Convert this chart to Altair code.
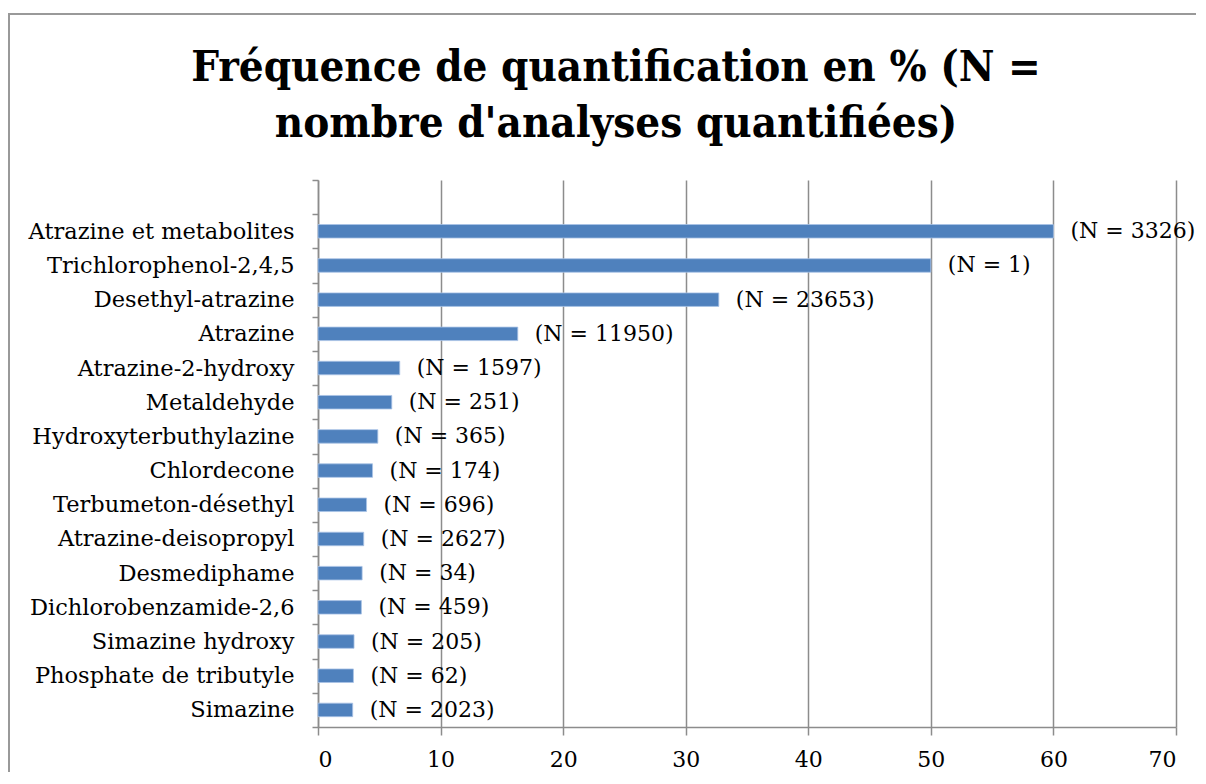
import altair as alt
import pandas as pd

categories = ["Atrazine et metabolites", "Trichlorophenol-2,4,5", "Desethyl-atrazine",
              "Atrazine", "Atrazine-2-hydroxy", "Metaldehyde", "Hydroxyterbuthylazine",
              "Chlordecone", "Terbumeton-désethyl", "Atrazine-deisopropyl", "Desmediphame",
              "Dichlorobenzamide-2,6", "Simazine hydroxy", "Phosphate de tributyle", "Simazine"]
values = [60.0, 50.0, 32.7, 16.3, 6.67, 6.02, 4.88, 4.45, 3.96, 3.73, 3.6, 3.54, 2.94, 2.89, 2.83]
counts = [3326, 1, 23653, 11950, 1597, 251, 365, 174, 696, 2627, 34, 459, 205, 62, 2023]
x_ticks = [0, 10, 20, 30, 40, 50, 60, 70]
title_text = "Fréquence de quantification en % (N =\nnombre d'analyses quantifiées)"

df = pd.DataFrame({
    "substance": categories,
    "freq": values,
    "label": [f"(N = {n})" for n in counts],
})

FONT = "DejaVu Serif"
TFONT = "DejaVu Serif Condensed"
W, H = 858, 547
domain = [" "] + categories

y_enc = alt.Y("substance:N", sort=domain,
              scale=alt.Scale(domain=domain, paddingInner=0, paddingOuter=0),
              axis=alt.Axis(title=None, labelFont=FONT, labelFontSize=22.5, labelColor="black",
                            labelPadding=18, domainColor="#8c8c8c", domainWidth=1.5,
                            tickColor="#8c8c8c", tickWidth=1.5, tickSize=6, tickBand="extent",
                            grid=False, labelLimit=400))
x_enc = alt.X("freq:Q",
              scale=alt.Scale(domain=[0, 70], nice=False),
              axis=alt.Axis(title=None, values=x_ticks, labelFont=FONT, labelFontSize=22,
                            labelColor="black", labelPadding=14, domainColor="#8c8c8c",
                            domainWidth=1.5, tickColor="#8c8c8c", tickWidth=1.5, tickSize=8,
                            gridColor="#8c8c8c", gridWidth=1.5, gridOpacity=1))

bars = alt.Chart(df).mark_bar(color="#4F81BD", stroke="#a9c3e6", strokeWidth=0.8,
                              height=alt.RelativeBandSize(0.395)).encode(
    x=x_enc, y=y_enc)

texts = alt.Chart(df).mark_text(align="left", baseline="middle", dx=17, font=FONT,
                                fontSize=22, color="black").encode(
    x="freq:Q", y=alt.Y("substance:N", sort=domain), text="label:N")

frame = alt.Chart(pd.DataFrame({"a": [0]})).mark_rect(
    fill=None, stroke="#999999", strokeWidth=2).encode(
    x=alt.value(-309), x2=alt.value(W + 60), y=alt.value(-166), y2=alt.value(H + 80))

title = alt.Chart(pd.DataFrame({"t": [title_text]})).mark_text(
    align="center", baseline="alphabetic", font=TFONT, fontSize=43.5, fontWeight="bold",
    color="black", lineBreak="\n", lineHeight=56).encode(
    x=alt.value(298), y=alt.value(-99), text="t:N")

chart = alt.layer(frame, bars, texts, title).properties(
    width=W, height=H,
    autosize=alt.AutoSizeParams(type="none"),
    padding={"left": 310, "top": 172, "right": 20, "bottom": 45},
).configure_view(stroke=None)

chart.save("out.html", embed_options={"renderer": "svg", "actions": False})
